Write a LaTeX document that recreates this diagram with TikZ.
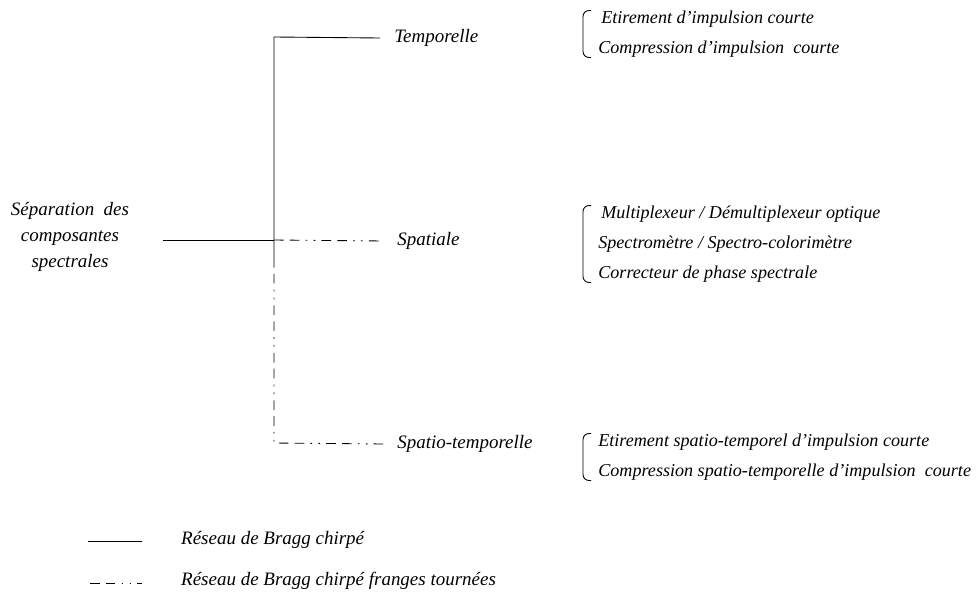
\documentclass[tikz,border=0pt]{standalone}
\usepackage{fontspec}
\setmainfont{Liberation Serif}
\usepackage{tikz}

\tikzset{
    branch/.style={anchor=west, inner xsep=0.28cm, font=\itshape\fontsize{10.8}{13}\selectfont},
    itemlist/.style={anchor=west, align=left, inner xsep=0.3cm, inner ysep=0cm, font=\itshape\fontsize{10.3}{17}\selectfont},
    bracket/.style={line width=0.5pt, rounded corners=0.12cm},
    tournee/.style={line width=0.5pt, dash pattern=on 5.5pt off 3.5pt on 5.5pt off 3.5pt on 1pt off 3.5pt on 1pt off 3.5pt},
    chirpe/.style={line width=0.5pt}
}

\begin{document}
\begin{tikzpicture}
    \useasboundingbox (0, 0) rectangle (19.56, 11.88);

    \node[align=center, font=\itshape\fontsize{10.8}{14.7}\selectfont] (sep) at (1.4, 7.14) {S\'eparation~ des\\composantes\\spectrales};
    \coordinate (sepend) at (3.26, 7.08);

    \coordinate (jn) at (5.48, 7.08);
    \coordinate (jtop) at (5.48, 11.14);
    \coordinate (jsol) at (5.48, 6.72);
    \coordinate (jbot) at (5.48, 3.02);

    \node[branch] (temp) at (7.6, 11.12) {Temporelle};
    \node[branch] (spat) at (7.66, 7.06) {Spatiale};
    \node[branch] (spte) at (7.66, 3.0) {Spatio-temporelle};

    \node[itemlist] (ltemp) at (11.66, 11.2) {\,Etirement d'impulsion courte\\Compression d'impulsion~ courte};
    \node[itemlist] (lspat) at (11.66, 7.0) {\,Multiplexeur / D\'emultiplexeur optique\\Spectrom\`etre / Spectro-colorim\`etre\\Correcteur de phase spectrale};
    \node[itemlist] (lspte) at (11.66, 2.74) {Etirement spatio-temporel d'impulsion courte\\Compression spatio-temporelle d'impulsion~ courte};

    % Bragg chirpe
    \draw[chirpe] (sepend) -- (jn);
    \draw[chirpe] (jsol) -- (jtop) -- (temp.west);
    % franges tournees
    \draw[tournee] (jn) -- (spat.west);
    \draw[tournee] (jsol) -- (jbot) -- (spte.west);

    \draw[bracket] ([xshift=0.16cm]ltemp.north west) -- (ltemp.north west) -- (ltemp.south west) -- ([xshift=0.16cm]ltemp.south west);
    \draw[bracket] ([xshift=0.16cm]lspat.north west) -- (lspat.north west) -- (lspat.south west) -- ([xshift=0.16cm]lspat.south west);
    \draw[bracket] ([xshift=0.16cm]lspte.north west) -- (lspte.north west) -- (lspte.south west) -- ([xshift=0.16cm]lspte.south west);

    % legende
    \coordinate (lg1a) at (1.76, 1.06);
    \coordinate (lg1b) at (2.84, 1.06);
    \coordinate (lg2a) at (1.8, 0.22);
    \coordinate (lg2b) at (2.84, 0.22);
    \node[anchor=west, font=\itshape\fontsize{10.8}{13}\selectfont] (leg1) at (3.5, 1.08) {R\'eseau de Bragg chirp\'e};
    \node[anchor=west, font=\itshape\fontsize{10.8}{13}\selectfont] (leg2) at (3.5, 0.26) {R\'eseau de Bragg chirp\'e franges tourn\'ees};
    \draw[chirpe] (lg1a) -- (lg1b);
    \draw[tournee] (lg2a) -- (lg2b);
\end{tikzpicture}
\end{document}
